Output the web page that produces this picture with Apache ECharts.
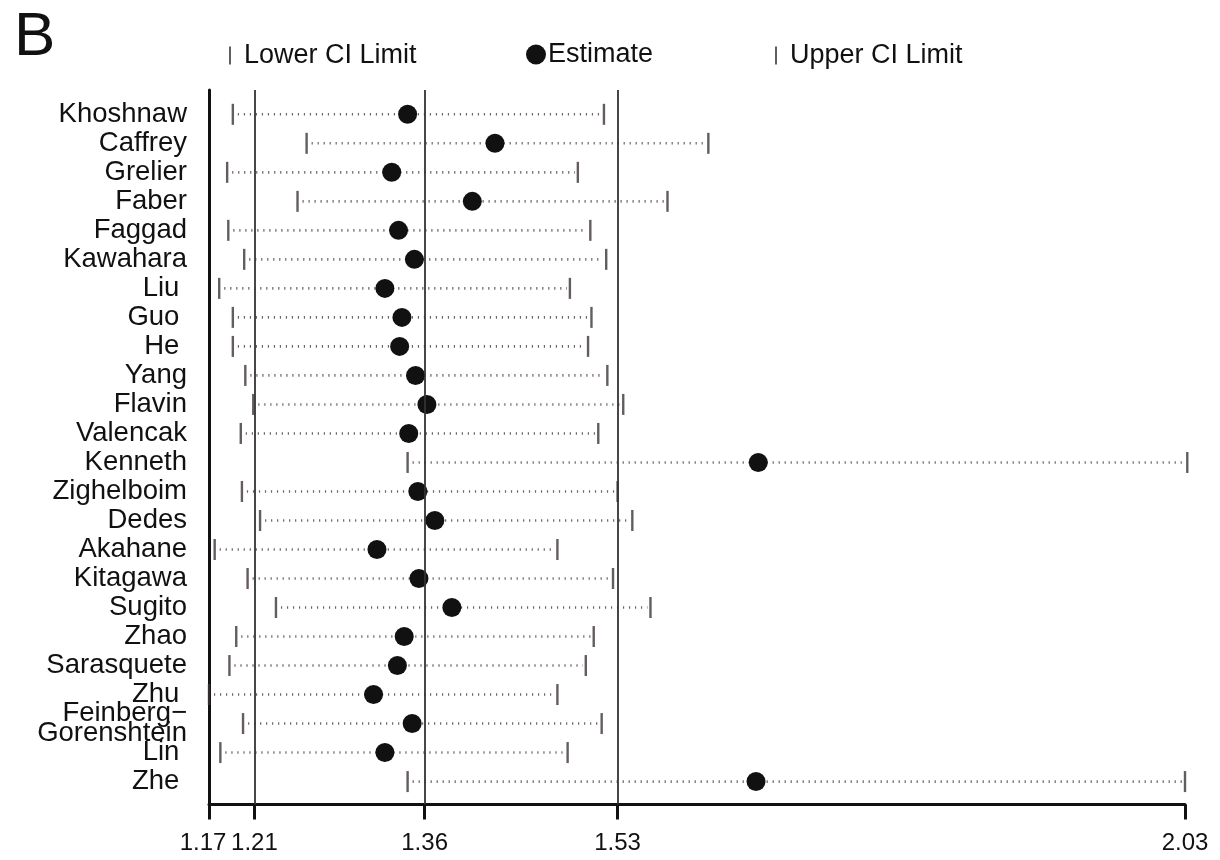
<!DOCTYPE html>
<html>
<head>
<meta charset="utf-8">
<script src="https://cdn.jsdelivr.net/npm/echarts@6/dist/echarts.min.js"></script>
<style>
  html, body { margin: 0; padding: 0; background: #fff; }
  #forest { width: 1220px; height: 860px; }
</style>
</head>
<body>
<div id="forest"></div>
<script>
// 研究名称（从上到下）
var studies = ['Khoshnaw', 'Caffrey', 'Grelier', 'Faber', 'Faggad', 'Kawahara', 'Liu ', 'Guo ', 'He ', 'Yang',
  'Flavin', 'Valencak', 'Kenneth', 'Zighelboim', 'Dedes', 'Akahane', 'Kitagawa', 'Sugito', 'Zhao',
  'Sarasquete', 'Zhu ', 'Feinberg\u2212\nGorenshtein', 'Lin ', 'Zhe ']
// 置信区间下限
var lowerCI = [1.191, 1.256, 1.186, 1.248, 1.187, 1.201, 1.179, 1.191, 1.191, 1.202,
  1.209, 1.198, 1.345, 1.199, 1.215, 1.175, 1.204, 1.229, 1.194,
  1.188, 1.170, 1.200, 1.180, 1.345]
// 估计值
var estimate = [1.345, 1.422, 1.331, 1.402, 1.337, 1.351, 1.325, 1.340, 1.338, 1.352,
  1.362, 1.346, 1.654, 1.354, 1.369, 1.318, 1.355, 1.384, 1.342,
  1.336, 1.315, 1.349, 1.325, 1.652]
// 置信区间上限
var upperCI = [1.518, 1.610, 1.495, 1.574, 1.506, 1.520, 1.488, 1.507, 1.504, 1.521,
  1.535, 1.513, 2.032, 1.530, 1.543, 1.477, 1.526, 1.559, 1.509,
  1.502, 1.477, 1.516, 1.486, 2.030]
// x轴刻度 和 参考线
var xTicks = [1.17, 1.21, 1.36, 1.53, 2.03]
var refLines = [1.21, 1.36, 1.53]

var font = "'Liberation Sans', Arial, sans-serif"
var myChart = echarts.init(document.getElementById('forest'))

var option = {
  animation: false,
  backgroundColor: '#fff',
  textStyle: { fontFamily: font },
  title: {
    text: 'B',
    left: 9,
    top: 2,
    textStyle: { fontSize: 62, fontWeight: 'normal', color: '#111', fontFamily: font }
  },
  legend: [
    {
      left: 224, top: 37, selectedMode: false,
      data: ['Lower CI Limit'], icon: 'rect', itemWidth: 2, itemHeight: 18,
      textStyle: { fontSize: 27, color: '#111', padding: [0, 0, 0, 8] }
    },
    {
      left: 521, top: 36, selectedMode: false,
      data: ['Estimate'], icon: 'circle', itemWidth: 20, itemHeight: 20,
      textStyle: { fontSize: 27, color: '#111', padding: [0, 0, 0, -3] }
    },
    {
      left: 770, top: 37, selectedMode: false,
      data: ['Upper CI Limit'], icon: 'rect', itemWidth: 2, itemHeight: 18,
      textStyle: { fontSize: 27, color: '#111', padding: [0, 0, 0, 8] }
    }
  ],
  grid: { left: 209, right: 35, top: 90, bottom: 55.5 },
  xAxis: [
    {
      // 主x轴：1.21 及以后的标签
      type: 'value',
      position: 'bottom',
      min: 1.17,
      max: 2.03,
      axisLine: { onZero: false, lineStyle: { color: '#111', width: 3 } },
      axisTick: { customValues: xTicks, length: 15, lineStyle: { color: '#111', width: 3 } },
      axisLabel: {
        customValues: xTicks.slice(1),
        showMinLabel: true,
        showMaxLabel: true,
        margin: 27,
        fontSize: 24,
        color: '#111',
        formatter: function (v) { return v.toFixed(2) }
      },
      splitLine: { show: false }
    },
    {
      // 只放 1.17 这个标签（和 1.21 挨得太近）
      type: 'value',
      position: 'bottom',
      offset: 0,
      min: 1.17,
      max: 2.03,
      axisLine: { show: false, onZero: false },
      axisTick: { show: false },
      axisLabel: {
        customValues: xTicks.slice(0, 1),
        showMinLabel: true,
        margin: 27,
        fontSize: 24,
        color: '#111',
        formatter: function (v) { return '{a|' + v.toFixed(2) + '}' },
        rich: { a: { fontSize: 24, color: '#111', padding: [0, 12, 0, 0] } }
      },
      splitLine: { show: false }
    }
  ],
  yAxis: {
    type: 'value',
    inverse: true,
    min: -0.838,
    max: 23.79,
    axisLine: { show: true, onZero: false, lineStyle: { color: '#111', width: 3 } },
    axisTick: { show: false },
    axisLabel: {
      customValues: studies.map(function (s, i) { return i }),
      margin: 22,
      fontSize: 27.5,
      lineHeight: 20,
      color: '#111',
      formatter: function (v) { return studies[v] }
    },
    splitLine: { show: false }
  },
  series: [
    {
      // 虚线（下限到上限）
      type: 'custom',
      clip: false,
      z: 1,
      data: studies.map(function (s, i) { return [i, lowerCI[i], upperCI[i]] }),
      encode: { x: [1, 2], y: 0 },
      renderItem: function (params, api) {
        var y = api.value(0)
        var p1 = api.coord([api.value(1), y])
        var p2 = api.coord([api.value(2), y])
        return {
          type: 'line',
          shape: { x1: p1[0] + 5, y1: p1[1], x2: p2[0] - 3, y2: p2[1] },
          style: { stroke: '#6e6666', lineWidth: 2.6, lineDash: [1.2, 4.8] }
        }
      },
      markLine: {
        silent: true,
        symbol: 'none',
        label: { show: false },
        lineStyle: { type: 'solid', color: '#333', width: 1.8 },
        data: refLines.map(function (v) { return { xAxis: v } })
      }
    },
    {
      name: 'Lower CI Limit',
      type: 'scatter',
      clip: false,
      z: 3,
      symbol: 'rect',
      symbolSize: [2.4, 21],
      itemStyle: { color: '#3d3535' },
      data: lowerCI.map(function (v, i) { return [v, i] })
    },
    {
      name: 'Upper CI Limit',
      type: 'scatter',
      clip: false,
      z: 3,
      symbol: 'rect',
      symbolSize: [2.4, 21],
      itemStyle: { color: '#3d3535' },
      data: upperCI.map(function (v, i) { return [v, i] })
    },
    {
      name: 'Estimate',
      type: 'scatter',
      clip: false,
      z: 4,
      symbol: 'circle',
      symbolSize: 19,
      itemStyle: { color: '#111', opacity: 1 },
      data: estimate.map(function (v, i) { return [v, i] })
    }
  ]
}
myChart.setOption(option)
window.addEventListener('resize', () => {
  myChart.resize()
})
</script>
</body>
</html>
